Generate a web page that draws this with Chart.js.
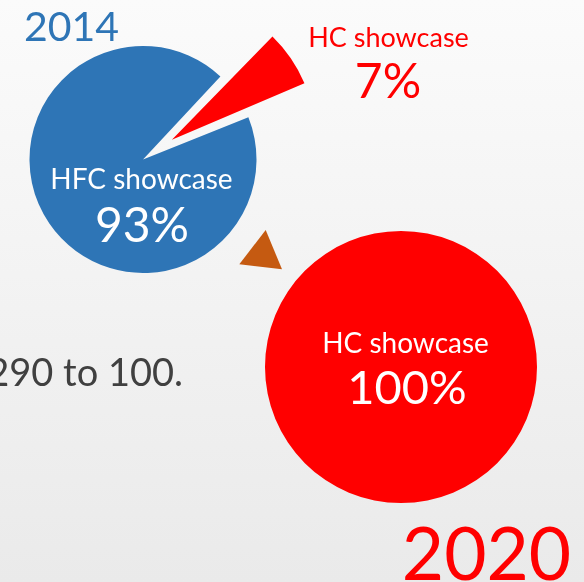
<!DOCTYPE html>
<html>
<head>
<meta charset="utf-8">
<script src="https://cdn.jsdelivr.net/npm/chart.js@4"></script>
<style>
  html, body { margin: 0; padding: 0; }
  body {
    width: 584px; height: 582px; overflow: hidden; position: relative;
    background: linear-gradient(#fbfbfb, #eaeaea);
    font-family: Lato, "Open Sans", sans-serif;
  }
  canvas, svg { position: absolute; left: 0; top: 0; }
</style>
</head>
<body>
<canvas id="pie-2014" width="584" height="582"></canvas>
<canvas id="slice-2014" width="584" height="582"></canvas>
<canvas id="pie-2020" width="584" height="582"></canvas>
<svg id="labels" width="584" height="582"></svg>
<script>
// Two "showcase" pies: 2014 split (HC slice pulled out) and 2020 all-HC.
const years = ["2014", "2020"];
const labels2014 = ["HC showcase", "HFC showcase"];
const shares2014 = [7, 93];
const labels2020 = ["HC showcase"];
const shares2020 = [100];
const noteText = "290 to 100.";

const COLORS = {
  blue: "#2E75B6",
  red: "#FF0000",
  arrow: "#C55A11",
  note: "#404040",
  white: "#FFFFFF",
  none: "rgba(0,0,0,0)",
};

Chart.defaults.animation = false;
Chart.defaults.events = [];
Chart.defaults.plugins.legend.display = false;
Chart.defaults.plugins.tooltip.enabled = false;

function pie(id, labels, data, colors, opts) {
  return new Chart(document.getElementById(id), {
    type: "pie",
    data: {
      labels,
      datasets: [{ data, backgroundColor: colors, borderWidth: 0, offset: opts.offset || 0, clip: false }],
    },
    options: {
      responsive: false,
      rotation: opts.rotation || 0,
      radius: opts.radius,
      layout: { padding: opts.padding },
    },
  });
}

// 2014 pie, centred near (143,159) via padding
const pad2014 = { left: 0, top: 0, right: 298, bottom: 263 };
pie("pie-2014", labels2014, shares2014, [COLORS.none, COLORS.blue], { rotation: 43, radius: 113.5, padding: pad2014 });
// the exploded HC slice is a bit larger than the main pie
pie("slice-2014", labels2014, shares2014, [COLORS.red, COLORS.none], { rotation: 43, radius: 124, offset: [140, 0], padding: pad2014 });
// 2020 pie
pie("pie-2020", labels2020, shares2020, [COLORS.red], { radius: 136, padding: { left: 218, top: 152, right: 0, bottom: 0 } });

// ---- text + arrow overlay ----
const svg = document.getElementById("labels");
const NS = "http://www.w3.org/2000/svg";
function addText(str, x, y, size, color, anchor) {
  const t = document.createElementNS(NS, "text");
  t.setAttribute("x", x);
  t.setAttribute("y", y);
  t.setAttribute("font-size", size);
  t.setAttribute("fill", color);
  t.setAttribute("text-anchor", anchor || "middle");
  t.setAttribute("font-family", "Lato, 'Open Sans', sans-serif");
  t.textContent = str;
  svg.appendChild(t);
}

const arrow = document.createElementNS(NS, "polygon");
arrow.setAttribute("points", "265.7,230 239.3,264.3 282,269.3");
arrow.setAttribute("fill", COLORS.arrow);
svg.appendChild(arrow);

addText(years[0], 24, 41, 41, COLORS.blue, "start");
addText(labels2014[0], 388.5, 47, 27, COLORS.red);
addText(shares2014[0] + "%", 388, 98, 48, COLORS.red);
addText(labels2014[1], 141.5, 189, 28, COLORS.white);
addText(shares2014[1] + "%", 142, 242, 48, COLORS.white);
addText(labels2020[0], 405.5, 353, 28, COLORS.white);
addText(shares2020[0] + "%", 407, 404, 47, COLORS.white);
addText(years[1], 486.5, 580, 73, COLORS.red);
addText(noteText, 183, 386, 38, COLORS.note, "end");
</script>
</body>
</html>
